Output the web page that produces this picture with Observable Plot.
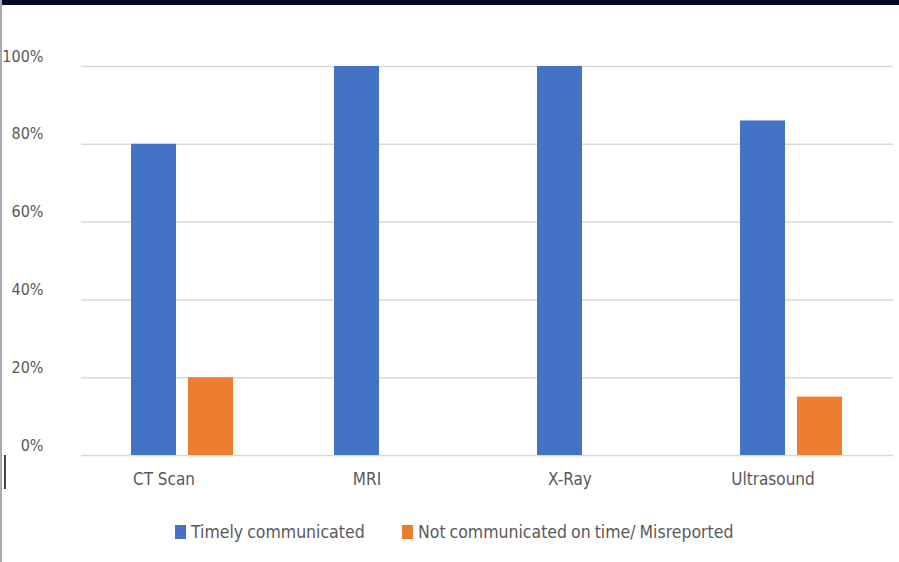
<!DOCTYPE html>
<html>
<head>
<meta charset="utf-8">
<script src="https://cdn.jsdelivr.net/npm/d3@7"></script>
<script src="https://cdn.jsdelivr.net/npm/@observablehq/plot@0.6"></script>
<style>
  html, body { margin: 0; padding: 0; background: #fff; }
  body { width: 899px; height: 562px; position: relative; overflow: hidden;
         font-family: "DejaVu Sans Condensed", "DejaVu Sans", sans-serif; }
  #topbar { position: absolute; left: 0; top: 0; width: 899px; height: 5px; background: #010a20; z-index: 3; }
  #leftline { position: absolute; left: 0; top: 0; width: 2px; height: 562px; background: #a9a9b8; z-index: 3; }
  #tick { position: absolute; left: 4px; top: 455px; width: 2px; height: 34px; background: #444; z-index: 3; }
  #chart { position: absolute; left: 0; top: 0; }
  #legend { position: absolute; left: 0; top: 0; width: 899px; height: 562px; pointer-events: none; }
  .item { position: absolute; top: 522px; display: flex; align-items: center; color: #595959; font-size: 17.5px; white-space: nowrap; word-spacing: -1px; }
  .sw { width: 11px; height: 14px; margin-right: 5px; display: inline-block; }
</style>
</head>
<body>
<div id="chart"></div>
<div id="legend"></div>
<div id="topbar"></div>
<div id="leftline"></div>
<div id="tick"></div>
<script>
const categories = ["CT Scan", "MRI", "X-Ray", "Ultrasound"];
const seriesNames = ["Timely communicated", "Not communicated on time/ Misreported"];
const timely = [80, 100, 100, 86];
const notOnTime = [20, 0, 0, 15];
const yTicks = [0, 20, 40, 60, 80, 100];
const colors = ["#4472C4", "#ED7D31"];

const data = [];
categories.forEach((c, i) => {
  data.push({category: c, series: seriesNames[0], value: timely[i]});
  data.push({category: c, series: seriesNames[1], value: notOnTime[i]});
});

const chart = Plot.plot({
  width: 899,
  height: 500,
  marginLeft: 80,
  marginRight: 6,
  marginTop: 66,
  marginBottom: 45,
  style: {fontFamily: '"DejaVu Sans Condensed", "DejaVu Sans", sans-serif', fontSize: "16px", color: "#595959", background: "transparent"},
  fx: {domain: categories, padding: 0, label: null},
  x: {domain: seriesNames, paddingInner: 0.207, paddingOuter: 0.856, axis: null},
  y: {domain: [0, 100], label: null},
  color: {domain: seriesNames, range: colors},
  marks: [
    Plot.ruleY(yTicks, {stroke: "#d9d9d9", strokeWidth: 1.5, strokeOpacity: 1}),
    Plot.barY(data.filter(d => d.value > 0), {fx: "category", x: "series", y: "value", fill: "series"}),
    Plot.axisY({ticks: yTicks, tickSize: 0, tickPadding: 38, dy: -10, tickFormat: d => d + "%", label: null, fill: "#595959", fontSize: 16}),
    Plot.axisFx({anchor: "bottom", tickSize: 0, tickPadding: 17, dx: -19, label: null, fill: "#595959", fontSize: 17})
  ]
});
document.getElementById("chart").appendChild(chart);

const legend = document.getElementById("legend");
const legendX = [175, 402];
seriesNames.forEach((s, i) => {
  const item = document.createElement("div");
  item.className = "item";
  item.style.left = legendX[i] + "px";
  const sw = document.createElement("span");
  sw.className = "sw";
  sw.style.background = colors[i];
  const t = document.createElement("span");
  t.textContent = s;
  item.appendChild(sw);
  item.appendChild(t);
  legend.appendChild(item);
});
</script>
</body>
</html>
